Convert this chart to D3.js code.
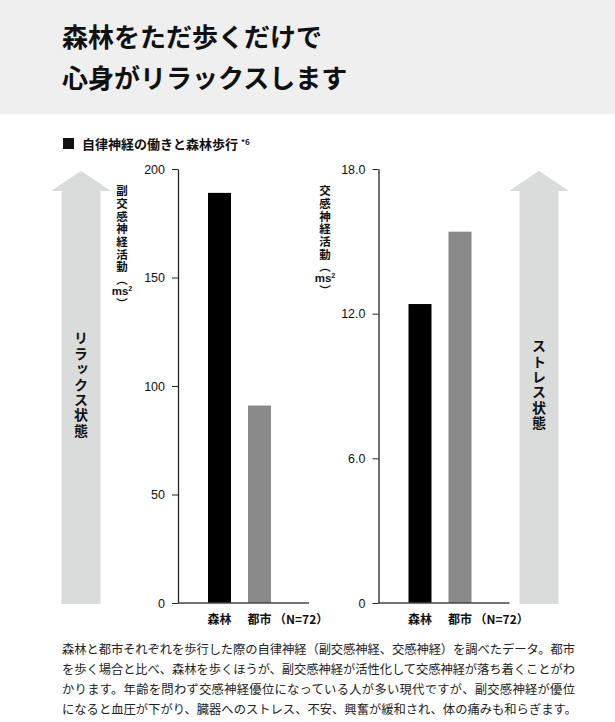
<!DOCTYPE html>
<html>
<head>
<meta charset="utf-8">
<style>
  body { margin: 0; background: #fff; }
  svg { display: block; font-family: "Noto Sans CJK JP", sans-serif; }
  .axis path, .axis line { stroke: #222; }
  .axis text { font-family: "Liberation Sans", Arial, sans-serif; font-size: 12.5px; fill: #111; }
  .vert { writing-mode: vertical-rl; }
</style>
<title>森林をただ歩くだけで心身がリラックスします</title>
</head>
<body>
<script src="https://cdn.jsdelivr.net/npm/d3@7"></script>
<script>

// data
var categories = ["森林", "都市"];
var paraValues = [189, 91];       // 副交感神経活動 (ms2)
var sympValues = [12.4, 15.4];    // 交感神経活動 (ms2)
var paraTicks = [0, 50, 100, 150, 200];
var sympTicks = [0, 6, 12, 18];
var sympTickLabels = ["0", "6.0", "12.0", "18.0"];
var barColors = ["#000000", "#8a8a8a"];
var titleLines = ["森林をただ歩くだけで", "心身がリラックスします"];
var noteLines = [
	"森林と都市それぞれを歩行した際の自律神経（副交感神経、交感神経）を調べたデータ。都市",
	"を歩く場合と比べ、森林を歩くほうが、副交感神経が活性化して交感神経が落ち着くことがわ",
	"かります。年齢を問わず交感神経優位になっている人が多い現代ですが、副交感神経が優位",
	"になると血圧が下がり、臓器へのストレス、不安、興奮が緩和され、体の痛みも和らぎます。"
];

var W = 615, H = 722;
var yTop = 169, yBase = 603;

var svg = d3.select("body").append("svg")
	.attr("width", W)
	.attr("height", H);

// header band
svg.append("rect").attr("width", W).attr("height", 114).attr("fill", "#efefef");
svg.selectAll(".title").data(titleLines).enter().append("text")
	.attr("x", 62)
	.attr("y", (d, i) => 47 + i * 41)
	.attr("font-size", 26)
	.attr("font-weight", 700)
	.attr("fill", "#111")
	.text(d => d);

// section heading
svg.append("rect").attr("x", 63).attr("y", 138).attr("width", 11).attr("height", 11).attr("fill", "#111");
var h = svg.append("text").attr("x", 82).attr("y", 149).attr("font-size", 13).attr("font-weight", 700).attr("fill", "#111");
h.append("tspan").text("自律神経の働きと森林歩行 ");
h.append("tspan").attr("dy", -4).attr("font-size", 8).text("*6");

// big arrows
function arrow(cx, label) {
	var p = d3.path();
	p.moveTo(cx - 19.5, yBase + 1);
	p.lineTo(cx - 19.5, 191);
	p.lineTo(cx - 30, 191);
	p.lineTo(cx, 171);
	p.lineTo(cx + 30, 191);
	p.lineTo(cx + 19.5, 191);
	p.lineTo(cx + 19.5, yBase + 1);
	p.closePath();
	svg.append("path").attr("d", p.toString()).attr("fill", "#dadbdb");
	svg.append("text")
		.attr("class", "vert")
		.attr("x", cx)
		.attr("y", 385)
		.attr("text-anchor", "middle")
		.attr("font-size", 14)
		.attr("letter-spacing", 1.4)
		.attr("font-weight", 700)
		.attr("fill", "#111")
		.text(label);
}
arrow(81, "リラックス状態");
arrow(539, "ストレス状態");

// vertical axis title
function vTitle(cx, y0, chars) {
	var g = svg.append("g").attr("font-size", 11.5).attr("font-weight", 700).attr("fill", "#111");
	g.append("text").attr("class", "vert")
		.attr("x", cx).attr("y", y0)
		.attr("letter-spacing", 1.2)
		.text(chars + "（");
	var y = y0 + (chars.length + 1) * 12.7;
	var m = g.append("text").attr("x", cx).attr("y", y + 8).attr("text-anchor", "middle")
		.attr("font-family", "'Liberation Sans', Arial, sans-serif");
	m.append("tspan").text("ms");
	m.append("tspan").attr("dy", -4).attr("font-size", 7).text("2");
	g.append("text").attr("class", "vert")
		.attr("x", cx).attr("y", y + 11)
		.text("）");
}

function panel(x0, values, yScale, ticks, tickFmt, titleChars, titleX) {
	var x = d3.scaleBand()
		.domain(categories)
		.range([x0 + 30, x0 + 93])
		.paddingInner(0.425);

	svg.append("g").selectAll("rect").data(values).enter().append("rect")
		.attr("x", (d, i) => x(categories[i]))
		.attr("width", x.bandwidth())
		.attr("y", d => yScale(d))
		.attr("height", d => yScale(0) - yScale(d))
		.attr("fill", (d, i) => barColors[i]);

	var ax = svg.append("g")
		.attr("class", "axis")
		.attr("transform", `translate(${x0},0)`)
		.call(d3.axisLeft(yScale).tickValues(ticks).tickFormat(tickFmt).tickSize(6).tickPadding(7).tickSizeOuter(0));
	ax.select(".domain").attr("stroke-width", 1.3);

	svg.append("line")
		.attr("x1", x0).attr("x2", x0 + 131)
		.attr("y1", yScale(0)).attr("y2", yScale(0))
		.attr("stroke", "#444").attr("stroke-width", 1.5);

	svg.append("g").selectAll("text").data(categories).enter().append("text")
		.attr("x", d => x(d) + x.bandwidth() / 2)
		.attr("y", 624)
		.attr("text-anchor", "middle")
		.attr("font-size", 12)
		.attr("font-weight", 700)
		.attr("fill", "#111")
		.text(d => d);
	svg.append("text")
		.attr("x", x(categories[1]) + x.bandwidth() + 3)
		.attr("y", 624)
		.attr("font-size", 12)
		.attr("font-weight", 700)
		.attr("fill", "#111")
		.text("（N=72）");

	vTitle(titleX, 185, titleChars);
}

var yPara = d3.scaleLinear().domain([0, 200]).range([yBase, yTop]);
var ySymp = d3.scaleLinear().domain([0, 18]).range([yBase, yTop]);

panel(178, paraValues, yPara, paraTicks, d3.format("d"), "副交感神経活動", 122);
panel(378.5, sympValues, ySymp, sympTicks, (d, i) => sympTickLabels[i], "交感神経活動", 325);

// footnote
svg.selectAll(".note").data(noteLines).enter().append("text")
	.attr("x", 62)
	.attr("y", (d, i) => 654 + i * 20)
	.attr("font-size", 12.3)
	.attr("fill", "#222")
	.attr("textLength", (d, i) => i < 3 ? 513 : null)
	.attr("lengthAdjust", "spacing")
	.text(d => d);

</script>
</body>
</html>
